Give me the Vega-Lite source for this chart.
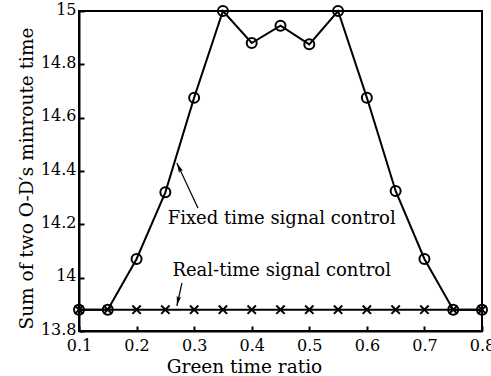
{
  "$schema": "https://vega.github.io/schema/vega-lite/v6.json",
  "width": 403,
  "height": 320,
  "autosize": {"type": "none"},
  "padding": {"left": 79, "top": 11, "right": 9, "bottom": 45},
  "background": "white",
  "config": {
    "view": {"stroke": "black", "strokeWidth": 2},
    "font": "DejaVu Serif",
    "axis": {
      "grid": false,
      "domainColor": "black",
      "domainWidth": 2,
      "tickColor": "black",
      "tickWidth": 2,
      "tickSize": -5,
      "labelFlush": false,
      "labelFont": "DejaVu Serif",
      "labelFontSize": 16,
      "labelColor": "black",
      "titleFont": "DejaVu Serif",
      "titleFontSize": 18.5,
      "titleFontWeight": "normal",
      "titleColor": "black"
    }
  },
  "datasets": {
    "series": [
      {"ratio": 0.1, "time": 13.88, "control": "Fixed"},
      {"ratio": 0.15, "time": 13.88, "control": "Fixed"},
      {"ratio": 0.2, "time": 14.07, "control": "Fixed"},
      {"ratio": 0.25, "time": 14.32, "control": "Fixed"},
      {"ratio": 0.3, "time": 14.675, "control": "Fixed"},
      {"ratio": 0.35, "time": 15.0, "control": "Fixed"},
      {"ratio": 0.4, "time": 14.88, "control": "Fixed"},
      {"ratio": 0.45, "time": 14.945, "control": "Fixed"},
      {"ratio": 0.5, "time": 14.875, "control": "Fixed"},
      {"ratio": 0.55, "time": 15.0, "control": "Fixed"},
      {"ratio": 0.6, "time": 14.675, "control": "Fixed"},
      {"ratio": 0.65, "time": 14.325, "control": "Fixed"},
      {"ratio": 0.7, "time": 14.07, "control": "Fixed"},
      {"ratio": 0.75, "time": 13.88, "control": "Fixed"},
      {"ratio": 0.8, "time": 13.88, "control": "Fixed"},
      {"ratio": 0.1, "time": 13.88, "control": "Real"},
      {"ratio": 0.15, "time": 13.88, "control": "Real"},
      {"ratio": 0.2, "time": 13.88, "control": "Real"},
      {"ratio": 0.25, "time": 13.88, "control": "Real"},
      {"ratio": 0.3, "time": 13.88, "control": "Real"},
      {"ratio": 0.35, "time": 13.88, "control": "Real"},
      {"ratio": 0.4, "time": 13.88, "control": "Real"},
      {"ratio": 0.45, "time": 13.88, "control": "Real"},
      {"ratio": 0.5, "time": 13.88, "control": "Real"},
      {"ratio": 0.55, "time": 13.88, "control": "Real"},
      {"ratio": 0.6, "time": 13.88, "control": "Real"},
      {"ratio": 0.65, "time": 13.88, "control": "Real"},
      {"ratio": 0.7, "time": 13.88, "control": "Real"},
      {"ratio": 0.75, "time": 13.88, "control": "Real"},
      {"ratio": 0.8, "time": 13.88, "control": "Real"}
    ],
    "labels": [
      {"ratio": 0.452, "time": 14.22, "label": "Fixed time signal control"},
      {"ratio": 0.452, "time": 14.025, "label": "Real-time signal control"}
    ],
    "arrows": [
      {"x1": 0.3066, "y1": 14.261, "x2": 0.270, "y2": 14.43, "angle": 335},
      {"x1": 0.2788, "y1": 13.98, "x2": 0.270, "y2": 13.894, "angle": 192}
    ]
  },
  "layer": [
    {
      "data": {"name": "series"},
      "mark": {"type": "line", "color": "black", "strokeWidth": 2},
      "encoding": {
        "x": {"field": "ratio", "type": "quantitative", "scale": {"domain": [0.1, 0.8], "nice": false, "zero": false},
              "axis": {"values": [0.1,0.2,0.3,0.4,0.5,0.6,0.7,0.8], "format": ".1f", "title": "Green time ratio", "labelPadding": 11, "titlePadding": 4, "titleX": 165, "titleAlign": "center"}},
        "y": {"field": "time", "type": "quantitative", "scale": {"domain": [13.8, 15], "nice": false, "zero": false},
              "axis": {"values": [13.8,14,14.2,14.4,14.6,14.8,15], "format": "~g", "title": "Sum of two O-D′s minroute time", "labelPadding": 8, "labelOffset": -2, "titlePadding": 4, "titleY": 167}},
        "detail": {"field": "control"}
      }
    },
    {
      "data": {"name": "series"},
      "transform": [{"filter": "datum.control === 'Real'"}],
      "mark": {"type": "point", "shape": "M-1,-1L1,1M-1,1L1,-1", "size": 70, "stroke": "black", "strokeWidth": 2, "filled": false, "opacity": 1},
      "encoding": {
        "x": {"field": "ratio", "type": "quantitative"},
        "y": {"field": "time", "type": "quantitative"}
      }
    },
    {
      "data": {"name": "series"},
      "transform": [{"filter": "datum.control === 'Fixed'"}],
      "mark": {"type": "point", "shape": "circle", "size": 100, "stroke": "black", "strokeWidth": 2, "filled": false, "opacity": 1},
      "encoding": {
        "x": {"field": "ratio", "type": "quantitative"},
        "y": {"field": "time", "type": "quantitative"}
      }
    },
    {
      "data": {"name": "labels"},
      "mark": {"type": "text", "font": "DejaVu Serif", "fontSize": 18, "color": "black", "align": "center", "baseline": "middle"},
      "encoding": {
        "x": {"field": "ratio", "type": "quantitative"},
        "y": {"field": "time", "type": "quantitative"},
        "text": {"field": "label"}
      }
    },
    {
      "data": {"name": "arrows"},
      "mark": {"type": "rule", "color": "black", "strokeWidth": 1.2},
      "encoding": {
        "x": {"field": "x1", "type": "quantitative"},
        "y": {"field": "y1", "type": "quantitative"},
        "x2": {"field": "x2"},
        "y2": {"field": "y2"}
      }
    },
    {
      "data": {"name": "arrows"},
      "mark": {"type": "point", "shape": "M0,0L-0.45,2L0,1.6L0.45,2Z", "size": 100, "filled": true, "color": "black", "opacity": 1},
      "encoding": {
        "x": {"field": "x2", "type": "quantitative"},
        "y": {"field": "y2", "type": "quantitative"},
        "angle": {"field": "angle", "type": "quantitative", "scale": null}
      }
    }
  ]
}
